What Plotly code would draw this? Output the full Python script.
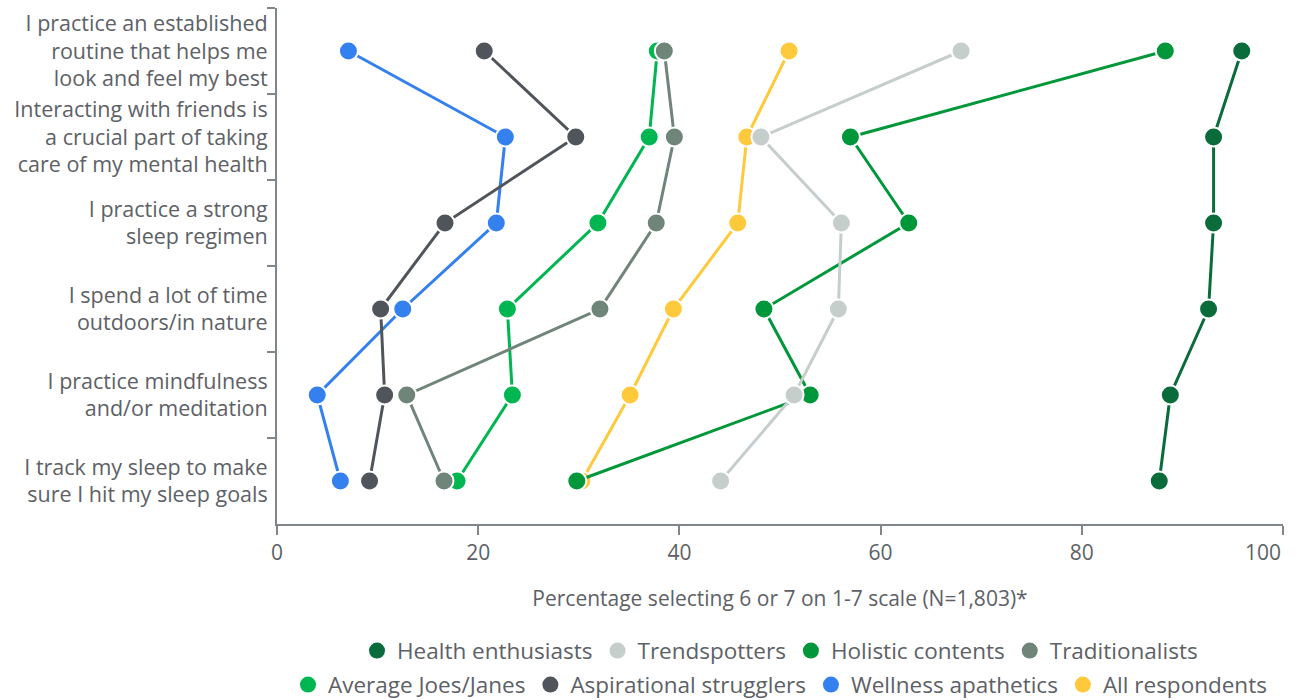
import plotly.graph_objects as go

statements = [
    "I practice an established<br>routine that helps me<br>look and feel my best",
    "Interacting with friends is<br>a crucial part of taking<br>care of my mental health",
    "I practice a strong<br>sleep regimen",
    "I spend a lot of time<br>outdoors/in nature",
    "I practice mindfulness<br>and/or meditation",
    "I track my sleep to make<br>sure I hit my sleep goals",
]

health_enthusiasts = [95.9, 93.1, 93.1, 92.6, 88.8, 87.7]
trendspotters = [68.0, 48.1, 56.1, 55.8, 51.4, 44.1]
holistic_contents = [88.3, 57.0, 62.8, 48.4, 53.0, 29.8]
traditionalists = [38.5, 39.5, 37.7, 32.1, 12.9, 16.6]
average_joes_janes = [37.8, 37.0, 31.9, 22.9, 23.4, 17.9]
aspirational_strugglers = [20.6, 29.7, 16.7, 10.3, 10.7, 9.2]
wellness_apathetics = [7.1, 22.7, 21.8, 12.5, 4.0, 6.3]
all_respondents = [50.9, 46.7, 45.8, 39.4, 35.1, 30.3]

x_ticks = [0, 20, 40, 60, 80, 100]
x_tick_labels = ["0", "20", "40", "60", "80", "100"]

# (name, values, colour, legend row)
segments = [
    ("Health enthusiasts", health_enthusiasts, "#0a6b3b", "legend"),
    ("Trendspotters", trendspotters, "#c6cecb", "legend"),
    ("Holistic contents", holistic_contents, "#00973a", "legend"),
    ("Traditionalists", traditionalists, "#6f8579", "legend"),
    ("Average Joes/Janes", average_joes_janes, "#00b650", "legend2"),
    ("Aspirational strugglers", aspirational_strugglers, "#50555b", "legend2"),
    ("Wellness apathetics", wellness_apathetics, "#3480ee", "legend2"),
    ("All respondents", all_respondents, "#ffc93c", "legend2"),
]

FONT = "Open Sans"
TEXT = "#5d6166"
AXIS = "#80868a"
TICK_SIZE = 21

fig = go.Figure()

# Lines are layered with the first segment on top
for name, vals, color, _ in reversed(segments):
    fig.add_trace(go.Scatter(
        x=vals, y=statements, mode="lines+markers", name=name,
        line=dict(color=color, width=3),
        marker=dict(size=19, color=color, line=dict(color="white", width=2)),
        showlegend=False, hoverinfo="x+name",
    ))

# Legend entries shown as plain dots
for rank, (name, vals, color, leg) in enumerate(segments):
    fig.add_trace(go.Scatter(
        x=[None], y=[None], mode="markers", name=name,
        marker=dict(size=16, color=color),
        legend=leg, legendrank=rank + 1, showlegend=True,
    ))

legend_common = dict(
    orientation="h", xanchor="center", x=0.5, yanchor="middle",
    font=dict(family=FONT, size=22.5, color=TEXT),
    itemwidth=30, tracegroupgap=0, bgcolor="rgba(0,0,0,0)",
)

# The last tick label is kept inside the figure, right-aligned to its tick
shown_labels = x_tick_labels[:-1] + [""]
fig.add_annotation(
    x=x_ticks[-1], y=0, xref="x", yref="paper", xanchor="right", yanchor="top",
    yshift=-12, text=x_tick_labels[-1], showarrow=False,
    font=dict(family=FONT, size=TICK_SIZE, color=TEXT),
)

fig.update_layout(
    width=1299, height=700,
    margin=dict(l=277, r=16, t=8, b=176, autoexpand=False),
    paper_bgcolor="white", plot_bgcolor="white",
    font=dict(family=FONT, color=TEXT),
    xaxis=dict(
        range=[0, 100], tickvals=x_ticks, ticktext=shown_labels,
        ticks="outside", ticklen=9,
        tickwidth=1.5, tickcolor=AXIS, showline=True, linecolor=AXIS,
        linewidth=2, showgrid=False, zeroline=False, automargin=False,
        tickfont=dict(family=FONT, size=TICK_SIZE, color=TEXT),
        title=dict(text="Percentage selecting 6 or 7 on 1-7 scale (N=1,803)*",
                   font=dict(family=FONT, size=21, color=TEXT), standoff=26),
    ),
    yaxis=dict(
        type="category", categoryorder="array", categoryarray=statements,
        range=[5.5, -0.5], tickson="boundaries", ticks="outside", ticklen=8,
        tickwidth=1.5, tickcolor=AXIS, showline=True, linecolor=AXIS,
        linewidth=2, showgrid=False, zeroline=False, automargin=False,
        ticklabelstandoff=3,
        tickfont=dict(family=FONT, size=21.5, color=TEXT),
    ),
    legend=dict(y=-0.246, **legend_common),
    legend2=dict(y=-0.312, **legend_common),
)

fig.write_html("out.html")
